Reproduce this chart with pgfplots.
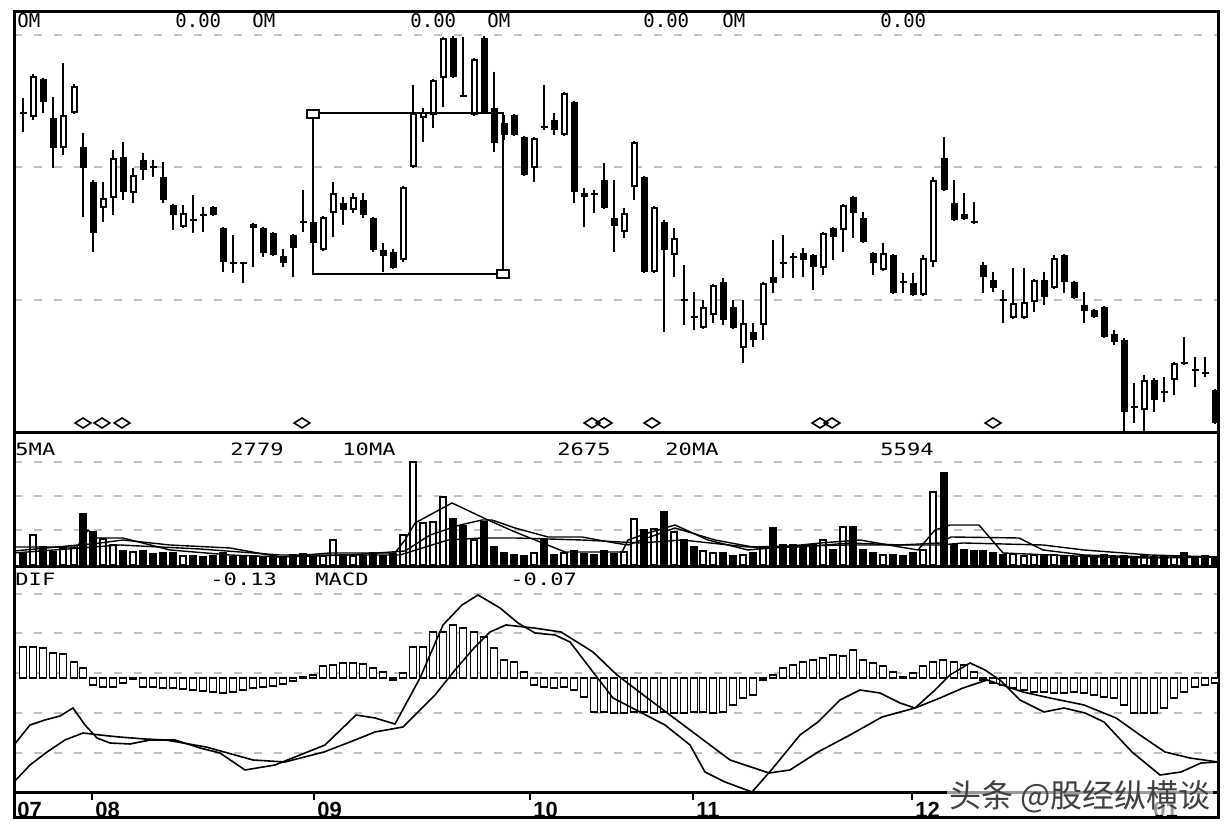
\documentclass[border=0pt]{standalone}
\usepackage{pgfplots}
\pgfplotsset{compat=1.18}
\usepackage{pgfplotstable}
\usepackage{fontspec}
\setmainfont{Liberation Sans}
\newfontfamily\mono{DejaVu Sans Mono}
\newfontfamily\monow{DejaVu Sans Mono}[FakeStretch=1.3]
\newfontfamily\cjk{Noto Sans CJK SC}

% candles: x, wick top, wick bottom, body top, body bottom (chart units, downward), volume
\pgfplotstableread{
x h l bt bb v
33 74 120 76 117 30
63 63 155 115 148 17
74 84 114 86 113 17
103 182 222 198 208 26
113 150 215 158 198 20
133 168 203 175 193 13
183 205 228 213 227 9
323 216 251 217 250 9
333 182 237 193 213 25
353 193 213 197 210 9
403 186 262 187 260 30
413 85 168 113 167 103
423 108 142 112 118 42
433 79 128 80 115 43
443 37 107 38 78 68
474 58 116 59 115 25
534 137 182 138 168 12
564 92 136 93 135 12
624 208 238 213 232 13
634 141 200 142 187 46
654 206 273 207 272 36
674 228 277 238 255 33
703 300 329 307 328 14
713 284 323 285 315 12
743 300 363 323 348 10
763 282 340 283 325 18
823 232 275 233 268 25
843 204 252 205 230 38
883 243 271 253 270 10
923 255 296 258 295 15
933 177 267 180 262 73
1013 268 319 303 318 11
1024 268 319 302 318 9
1034 279 312 280 302 10
1054 255 289 258 288 10
1144 375 433 380 410 9
1174 362 395 363 380 9
}\up

\pgfplotstableread{
x h l bt bb v
23 98 132 112 114 12
43 78 113 79 102 18
53 97 168 118 148 13
83 133 217 147 168 51
93 180 252 182 233 33
123 142 200 157 192 14
143 153 180 160 170 14
153 160 177 166 168 11
163 162 203 177 200 12
173 204 230 205 215 12
193 195 233 219 221 9
203 207 232 214 216 8
213 206 216 207 215 9
223 227 272 228 262 12
233 235 273 262 264 8
243 262 283 262 264 8
253 223 267 224 228 9
263 227 257 228 253 8
273 232 256 233 255 9
283 249 267 256 263 8
293 234 277 235 248 10
303 190 232 221 223 11
313 221 244 222 243 8
343 197 225 203 210 10
363 193 218 200 215 9
373 217 252 218 250 12
383 243 272 250 256 9
393 249 269 252 268 11
453 36 78 38 77 46
463 37 97 95 97 39
484 36 114 38 113 43
494 72 152 108 143 18
504 115 140 123 135 12
514 114 136 115 135 10
524 136 176 137 175 9
544 85 130 126 128 25
554 113 135 120 130 10
574 101 203 102 192 14
584 188 227 193 197 11
594 190 213 193 195 10
604 163 209 180 208 14
614 180 252 218 226 11
644 176 273 177 272 35
664 220 332 222 250 53
684 265 325 299 301 25
694 292 330 316 318 18
723 278 325 282 320 12
733 300 329 307 328 9
753 323 347 332 340 12
773 240 293 277 283 37
783 235 278 262 264 20
793 253 278 256 258 20
803 248 277 253 260 18
813 254 290 255 267 20
833 227 260 228 237 15
853 196 238 197 213 38
863 212 243 218 242 15
873 252 275 253 263 12
893 254 294 255 293 10
903 273 293 281 283 9
913 273 296 283 295 12
944 137 191 158 190 92
954 180 221 203 220 20
964 193 220 214 219 15
974 202 224 221 223 14
983 262 293 265 277 14
993 272 292 280 288 12
1003 290 323 299 301 10
1044 272 305 280 297 9
1064 254 293 255 282 9
1074 281 299 282 298 8
1084 292 323 305 311 9
1094 309 318 310 317 8
1104 306 338 307 337 10
1114 330 345 334 342 8
1124 338 433 340 412 9
1134 383 423 406 408 8
1154 378 412 380 400 8
1164 377 402 391 393 8
1184 337 365 362 364 12
1195 357 387 369 371 8
1205 357 377 372 374 9
1215 389 424 390 423 8
}\dn

\pgfplotstableread{
x v
23 31
33 31
43 30
53 25
63 24
74 16
83 10
93 -7
103 -9
113 -9
123 -5
133 -1
143 -9
153 -9
163 -10
173 -10
183 -11
193 -12
203 -13
213 -14
223 -15
233 -14
243 -12
253 -10
263 -9
273 -8
283 -6
293 -3
303 1
313 3
323 12
333 13
343 15
353 15
363 14
373 10
383 6
393 -2
403 5
413 31
423 31
433 46
443 46
453 53
463 50
474 46
484 41
494 30
504 18
514 16
524 6
534 -7
544 -9
554 -10
564 -9
574 -12
584 -19
594 -34
604 -34
614 -35
624 -35
634 -34
644 -34
654 -35
664 -34
674 -35
684 -35
694 -34
703 -34
713 -35
723 -34
733 -27
743 -20
753 -17
763 -2
773 3
783 10
793 13
803 16
813 18
823 20
833 23
843 22
853 28
863 18
873 15
883 12
893 6
903 1
913 5
923 12
933 16
943 18
954 16
964 13
974 6
983 -2
993 -5
1003 -7
1013 -10
1024 -12
1034 -14
1044 -14
1054 -15
1064 -15
1074 -14
1084 -15
1094 -17
1104 -19
1114 -20
1124 -27
1134 -35
1144 -35
1154 -35
1164 -30
1174 -20
1184 -14
1195 -9
1205 -7
1215 -5
}\hist

\pgfplotsset{
  panel/.style={scale only axis, width=602pt, xmin=14, xmax=1218,
    clip mode=individual, axis line style={line width=1.5pt},
    xtick=\empty, ytick style={draw=none}, yticklabels={},
    ymajorgrids, major grid style={line width=0.9pt, dash pattern=on 4pt off 6pt}},
  nomark/.style={only marks, mark=none, mark size=0pt, mark options={draw=none, fill=none}, forget plot},
  stick/.style 2 args={nomark, error bars/.cd, y dir=plus, y explicit,
    error mark=none, error bar style={line width=#1, #2, line cap=butt}},
}

\begin{document}
\begin{tikzpicture}[x=1pt,y=1pt]
\path (0,0) rectangle (616,417);

% ---------------- price panel ----------------
\begin{axis}[panel, height=210.5pt, at={(7pt,200.5pt)}, anchor=south west,
  y dir=reverse, ymin=12, ymax=433, ytick={35,167,300}]
\addplot[stick={1.1pt}{black}] table[x=x, y=h, y error plus expr=\thisrow{l}-\thisrow{h}] {\up};
\addplot[stick={1.1pt}{black}] table[x=x, y=h, y error plus expr=\thisrow{l}-\thisrow{h}] {\dn};
\addplot[stick={3.5pt}{black}] table[x=x, y=bt, y error plus expr=\thisrow{bb}-\thisrow{bt}] {\up};
\addplot[stick={3.5pt}{black}] table[x=x, y=bt, y error plus expr=\thisrow{bb}-\thisrow{bt}] {\dn};
\addplot[stick={1.5pt}{white}]
  table[x=x, y expr=\thisrow{bt}+2, y error plus expr={max(\thisrow{bb}-\thisrow{bt}-4,0)}] {\up};
% marked rectangle
\addplot[black, line width=0.8pt] coordinates {(313,113) (503,113) (503,274) (313,274) (313,113)};
\addplot[only marks, mark=square*, mark size=3pt,
  mark options={fill=white, draw=black, line width=0.8pt, yscale=0.7}]
  coordinates {(313,114) (503,274)};
% signal diamonds
\addplot[only marks, mark=diamond, mark size=2.5pt,
  mark options={fill=white, draw=black, line width=0.8pt, xscale=2.1}]
  coordinates {(83,423) (102,423) (122,423) (302,423) (592,423) (604,423) (652,423) (820,423) (832,423) (993,423)};
\begin{scope}[every node/.style={font=\mono\fontsize{9.5}{10}\selectfont, anchor=base west, inner sep=0pt}]
\node at (axis cs:17,28) {OM};
\node at (axis cs:175,28) {0.00};
\node at (axis cs:252,28) {OM};
\node at (axis cs:410,28) {0.00};
\node at (axis cs:487,28) {OM};
\node at (axis cs:643,28) {0.00};
\node at (axis cs:722,28) {OM};
\node at (axis cs:880,28) {0.00};
\end{scope}
\end{axis}

% ---------------- volume panel ----------------
\begin{axis}[panel, height=67pt, at={(7pt,133.5pt)}, anchor=south west,
  ymin=-2, ymax=132, ytick={35,69,103}]
\addplot[ybar, bar width=3pt, bar shift=0pt, fill=white, draw=black, line width=0.6pt] table[x=x, y=v] {\up};
\addplot[ybar, bar width=3pt, bar shift=0pt, fill=black, draw=black, line width=0.6pt] table[x=x, y=v] {\dn};
\addplot[black, line width=0.7pt] coordinates {(14,18) (77,18) (88,35) (97,27) (123,27) (170,15) (230,10) (280,8) (330,12) (395,12) (405,25) (415,42) (452,62) (488,45) (515,33) (535,25) (565,13) (622,13) (628,25) (648,32) (675,40) (708,25) (748,15) (782,18) (820,22) (860,25) (900,18) (918,15) (935,35) (950,40) (979,40) (1003,12) (1050,10) (1100,8) (1150,7) (1218,8)};
\addplot[black, line width=0.7pt] coordinates {(14,14) (100,22) (123,25) (170,20) (230,17) (280,8) (350,10) (405,14) (430,30) (460,40) (482,45) (492,45) (515,37) (548,28) (582,28) (615,22) (628,20) (650,28) (675,37) (715,25) (758,17) (800,18) (850,22) (900,20) (940,22) (951,28) (1019,27) (1043,15) (1084,10) (1150,8) (1218,8)};
\addplot[black, line width=0.7pt] coordinates {(14,12) (120,20) (200,16) (280,10) (400,10) (448,25) (482,27) (515,27) (582,25) (640,22) (682,25) (748,18) (850,20) (940,20) (963,22) (1043,20) (1084,15) (1150,10) (1218,8)};
\begin{scope}[every node/.style={font=\monow\fontsize{8.5}{9}\selectfont, anchor=base west, inner sep=0pt}]
\node at (axis cs:15,109) {5MA};
\node at (axis cs:230,109) {2779};
\node at (axis cs:342,109) {10MA};
\node at (axis cs:557,109) {2675};
\node at (axis cs:665,109) {20MA};
\node at (axis cs:880,109) {5594};
\end{scope}
\end{axis}

% ---------------- MACD panel ----------------
\begin{axis}[panel, height=113pt, at={(7pt,20.5pt)}, anchor=south west,
  ymin=-115, ymax=111, ytick={-75,-35,5,45,84},
  xtick={14,92,314,530,693,912,1150}, xticklabels={07,08,09,10,11,12,01},
  xtick pos=bottom, xtick align=outside, major tick length=3.5pt,
  xtick style={line width=1pt, black},
  xticklabel style={font=\bfseries\fontsize{11}{11}\selectfont, anchor=north west, inner sep=0pt, xshift=1.5pt, yshift=-1pt}]
\addplot[ybar, bar width=3.5pt, bar shift=0pt, fill=white, draw=black, line width=0.6pt] table[x=x, y=v] {\hist};
\addplot[black, line width=0.8pt] coordinates {(14,-67) (30,-47) (45,-42) (60,-38) (73,-30) (85,-47) (97,-60) (110,-65) (130,-66) (150,-62) (175,-62) (200,-70) (220,-75) (245,-92) (275,-87) (300,-77) (325,-67) (356,-37) (375,-40) (395,-46) (420,0) (443,53) (462,73) (478,83) (500,70) (518,55) (535,45) (555,43) (570,36) (593,6) (613,-20) (640,-34) (665,-47) (690,-67) (705,-94) (725,-104) (752,-114) (773,-90) (800,-57) (818,-44) (840,-22) (860,-12) (880,-15) (900,-25) (915,-30) (935,-12) (950,3) (970,15) (985,8) (1000,-2) (1020,-22) (1044,-34) (1064,-30) (1085,-35) (1104,-44) (1132,-74) (1160,-97) (1181,-94) (1201,-85) (1218,-84)};
\addplot[black, line width=0.8pt] coordinates {(14,-104) (30,-87) (47,-74) (65,-62) (83,-55) (100,-57) (119,-59) (145,-61) (166,-62) (206,-69) (253,-82) (285,-84) (324,-74) (350,-64) (375,-54) (403,-49) (435,-17) (455,8) (474,30) (490,46) (506,53) (534,50) (561,46) (593,26) (617,3) (650,-22) (690,-52) (730,-82) (769,-95) (790,-92) (818,-74) (850,-57) (882,-39) (915,-30) (940,-20) (963,-10) (987,-2) (1023,-14) (1050,-20) (1084,-27) (1116,-40) (1140,-57) (1165,-74) (1190,-80) (1218,-84)};
\begin{scope}[every node/.style={font=\monow\fontsize{8.5}{9}\selectfont, anchor=base west, inner sep=0pt}]
\node at (axis cs:15,92) {DIF};
\node at (axis cs:210,92) {-0.13};
\node at (axis cs:315,92) {MACD};
\node at (axis cs:510,92) {-0.07};
\end{scope}
\draw[line width=1.5pt] (axis cs:14,-115) -- (axis cs:14,-140) -- (axis cs:1218,-140) -- (axis cs:1218,-115);
\coordinate (wm) at (axis cs:1080,-119);
\end{axis}

% watermark
\node[font=\cjk\fontsize{16}{16}\selectfont, text=black!75, fill=white, fill opacity=0.6, text opacity=1, inner sep=1pt] at (wm) {头条 @股经纵横谈};
\end{tikzpicture}
\end{document}
